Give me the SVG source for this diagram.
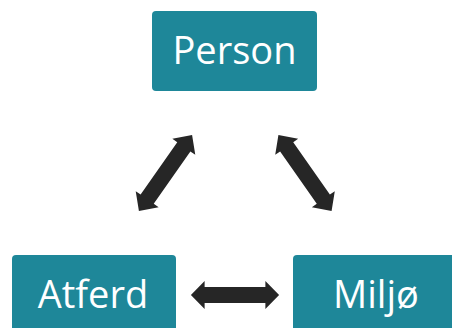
<svg xmlns="http://www.w3.org/2000/svg" width="452" height="328" viewBox="0 0 452 328">
<defs>
<style>
.box{fill:#1e8799;}
.lbl{fill:#ffffff;font-family:"Open Sans","DejaVu Sans",sans-serif;font-size:38px;text-anchor:middle;}
.arr{fill:#262626;}
</style>
<path id="dbl" d="M-45,0 L-31,-14 L-31,-8 L31,-8 L31,-14 L45,0 L31,14 L31,8 L-31,8 L-31,14 Z"/>
</defs>
<rect width="452" height="328" fill="#ffffff"/>
<g id="person">
<rect class="box" x="152" y="11" width="165" height="80" rx="4"/>
<text class="lbl" x="234.5" y="64">Person</text>
</g>
<g id="atferd">
<rect class="box" x="12" y="255" width="164" height="90" rx="4"/>
<text class="lbl" x="93" y="308">Atferd</text>
</g>
<g id="miljo">
<rect class="box" x="293" y="255" width="166" height="90" rx="4"/>
<text class="lbl" x="376" y="308">Miljø</text>
</g>
<g id="connectors" class="arr">
<use href="#dbl" transform="translate(165.5,173) rotate(-55) scale(1.03,1)"/>
<use href="#dbl" transform="translate(305,173) rotate(55) scale(1.03,1)"/>
<use href="#dbl" transform="translate(235,295) scale(0.98,1)"/>
</g>
</svg>
